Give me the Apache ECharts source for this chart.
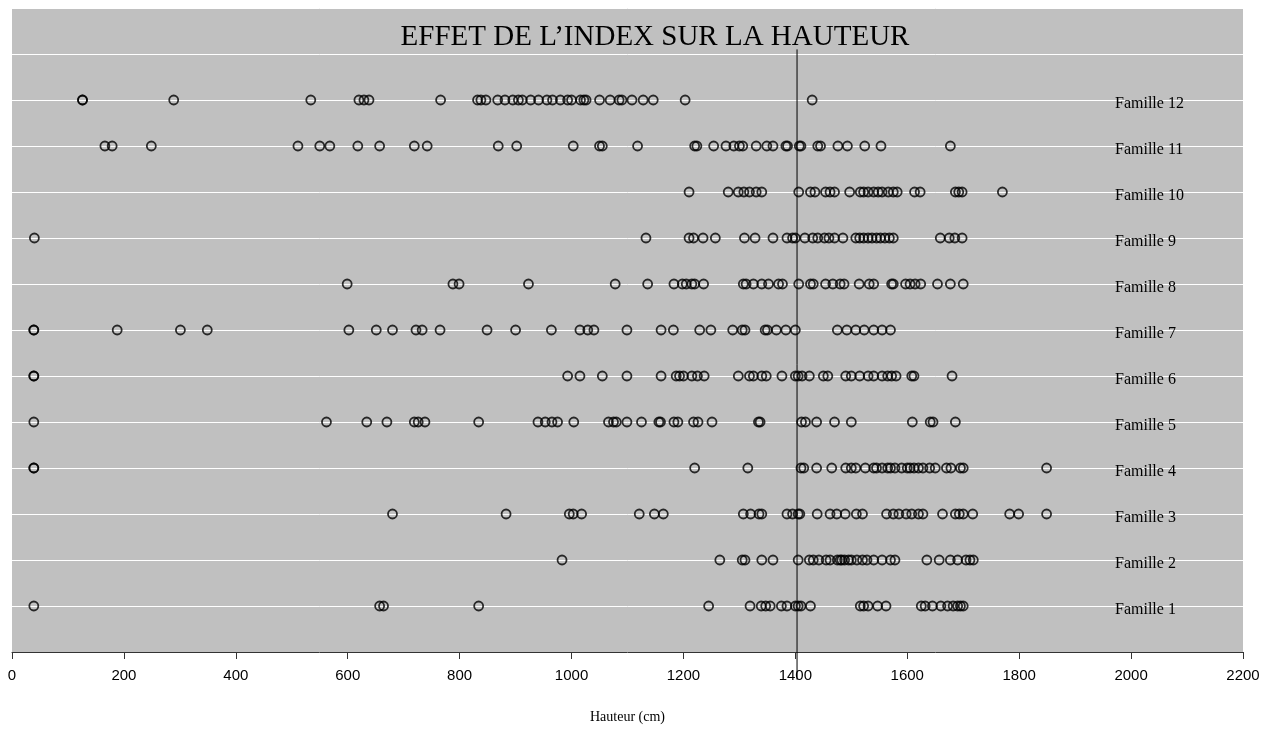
<!DOCTYPE html>
<html>
<head>
<meta charset="utf-8">
<script src="https://cdn.jsdelivr.net/npm/echarts@6/dist/echarts.min.js"></script>
<style>
  html, body { margin: 0; padding: 0; background: #fff; }
  #chart { width: 1280px; height: 731px; }
</style>
</head>
<body>
<div id="chart"></div>
<script>
// hauteurs (cm) par famille
var famille1 = [39, 657, 664, 834, 1245, 1319, 1339, 1347, 1355, 1375, 1385, 1400, 1405, 1410, 1427, 1516, 1522, 1530, 1547, 1562, 1625, 1632, 1645, 1660, 1672, 1682, 1690, 1695, 1700];
var famille2 = [983, 1265, 1305, 1310, 1340, 1360, 1405, 1425, 1432, 1442, 1455, 1462, 1475, 1480, 1483, 1488, 1495, 1500, 1510, 1520, 1528, 1540, 1555, 1570, 1578, 1635, 1657, 1677, 1690, 1705, 1712, 1718];
var famille3 = [680, 883, 996, 1003, 1018, 1121, 1148, 1164, 1307, 1320, 1335, 1340, 1385, 1395, 1405, 1408, 1439, 1462, 1474, 1489, 1509, 1520, 1563, 1575, 1585, 1598, 1608, 1620, 1628, 1663, 1686, 1693, 1700, 1717, 1783, 1799, 1849];
var famille4 = [39, 39, 1220, 1315, 1410, 1415, 1438, 1465, 1490, 1500, 1508, 1525, 1540, 1545, 1555, 1565, 1570, 1578, 1590, 1600, 1605, 1612, 1620, 1628, 1640, 1650, 1670, 1678, 1695, 1700, 1849];
var famille5 = [39, 562, 634, 670, 719, 726, 738, 834, 940, 953, 965, 975, 1004, 1066, 1075, 1080, 1099, 1125, 1156, 1159, 1183, 1190, 1218, 1226, 1251, 1334, 1337, 1411, 1418, 1438, 1470, 1500, 1609, 1641, 1646, 1686];
var famille6 = [39, 39, 993, 1015, 1055, 1099, 1160, 1187, 1193, 1200, 1215, 1225, 1237, 1298, 1318, 1325, 1340, 1348, 1376, 1400, 1405, 1412, 1425, 1450, 1458, 1490, 1500, 1515, 1530, 1540, 1555, 1565, 1572, 1580, 1608, 1612, 1680];
var famille7 = [39, 39, 188, 301, 349, 602, 651, 680, 722, 733, 765, 849, 900, 964, 1015, 1029, 1040, 1099, 1160, 1182, 1229, 1249, 1288, 1305, 1310, 1346, 1350, 1366, 1383, 1400, 1475, 1492, 1508, 1523, 1540, 1555, 1570];
var famille8 = [599, 788, 799, 923, 1078, 1136, 1183, 1198, 1205, 1215, 1220, 1236, 1307, 1312, 1325, 1340, 1352, 1370, 1377, 1406, 1427, 1432, 1454, 1467, 1480, 1487, 1514, 1532, 1540, 1572, 1575, 1597, 1605, 1614, 1624, 1654, 1677, 1700];
var famille9 = [40, 1133, 1210, 1218, 1235, 1257, 1309, 1328, 1360, 1385, 1395, 1400, 1417, 1431, 1440, 1452, 1460, 1470, 1485, 1508, 1515, 1522, 1530, 1537, 1545, 1552, 1560, 1568, 1575, 1659, 1675, 1685, 1698];
var famille10 = [1210, 1280, 1298, 1308, 1318, 1330, 1340, 1406, 1427, 1435, 1454, 1462, 1470, 1497, 1516, 1522, 1530, 1540, 1548, 1555, 1566, 1575, 1582, 1613, 1623, 1686, 1692, 1698, 1770];
var famille11 = [166, 179, 249, 511, 550, 568, 618, 657, 719, 742, 869, 902, 1003, 1050, 1055, 1118, 1220, 1224, 1254, 1276, 1290, 1300, 1306, 1330, 1349, 1360, 1383, 1386, 1407, 1410, 1440, 1445, 1476, 1493, 1524, 1553, 1677];
var famille12 = [126, 126, 289, 534, 620, 629, 638, 766, 832, 838, 847, 868, 881, 895, 905, 912, 927, 941, 956, 966, 980, 993, 1000, 1016, 1022, 1026, 1050, 1069, 1085, 1090, 1108, 1128, 1146, 1203, 1430];

var familles = ['Famille 1', 'Famille 2', 'Famille 3', 'Famille 4', 'Famille 5', 'Famille 6',
                'Famille 7', 'Famille 8', 'Famille 9', 'Famille 10', 'Famille 11', 'Famille 12'];
var hauteurs = [famille1, famille2, famille3, famille4, famille5, famille6,
                famille7, famille8, famille9, famille10, famille11, famille12];

// ligne de référence (index)
var indexHauteur = 1403;
var indexSpan = [-0.6, 13.1];

var myChart = echarts.init(document.getElementById('chart'));

var series = [];
for (var i = 0; i < hauteurs.length; i++) {
  var pts = [];
  for (var j = 0; j < hauteurs[i].length; j++) {
    pts.push([hauteurs[i][j], i + 1]);
  }
  series.push({
    name: familles[i],
    type: 'scatter',
    data: pts,
    symbol: 'circle',
    symbolSize: 9,
    itemStyle: {
      color: 'rgba(0,0,0,0)',
      borderColor: '#000',
      borderWidth: 1.8
    },
    z: 3
  });
}
series.push({
  type: 'line',
  data: [[indexHauteur, indexSpan[0]], [indexHauteur, indexSpan[1]]],
  symbol: 'none',
  clip: false,
  lineStyle: { color: '#000', width: 1 },
  silent: true,
  z: 2
});

var option = {
  backgroundColor: '#fff',
  animation: false,
  title: {
    text: 'EFFET DE L\u2019INDEX SUR LA HAUTEUR',
    left: 650,
    top: 18,
    textAlign: 'center',
    textStyle: {
      fontFamily: 'Liberation Serif',
      fontSize: 29,
      fontWeight: 'normal',
      color: '#000'
    }
  },
  grid: {
    left: 12,
    right: 37,
    top: 8,
    bottom: 79,
    show: true,
    backgroundColor: '#C0C0C0',
    borderWidth: 0
  },
  xAxis: {
    type: 'value',
    min: 0,
    max: 2200,
    interval: 200,
    name: 'Hauteur (cm)',
    nameLocation: 'middle',
    nameGap: 58,
    nameTextStyle: {
      fontFamily: 'Liberation Serif',
      fontSize: 14,
      color: '#000'
    },
    axisLine: { show: true, lineStyle: { color: '#333', width: 1 } },
    axisTick: { show: true, length: 7, lineStyle: { color: '#333' } },
    axisLabel: {
      margin: 16,
      fontFamily: 'Liberation Sans',
      fontSize: 15,
      color: '#000',
      formatter: function (v) { return String(v); }
    },
    splitLine: { show: false }
  },
  yAxis: {
    type: 'value',
    position: 'right',
    min: 0,
    max: 14,
    interval: 1,
    axisLine: { show: false },
    axisTick: { show: false },
    axisLabel: {
      inside: true,
      align: 'left',
      verticalAlign: 'top',
      lineHeight: 7,
      margin: 128,
      fontFamily: 'Liberation Serif',
      fontSize: 16,
      color: '#000',
      formatter: function (v) {
        return (v >= 1 && v <= familles.length) ? familles[v - 1] : '';
      }
    },
    splitLine: { show: true, lineStyle: { color: '#fff', width: 1 } }
  },
  series: series
};

myChart.setOption(option);
</script>
</body>
</html>
